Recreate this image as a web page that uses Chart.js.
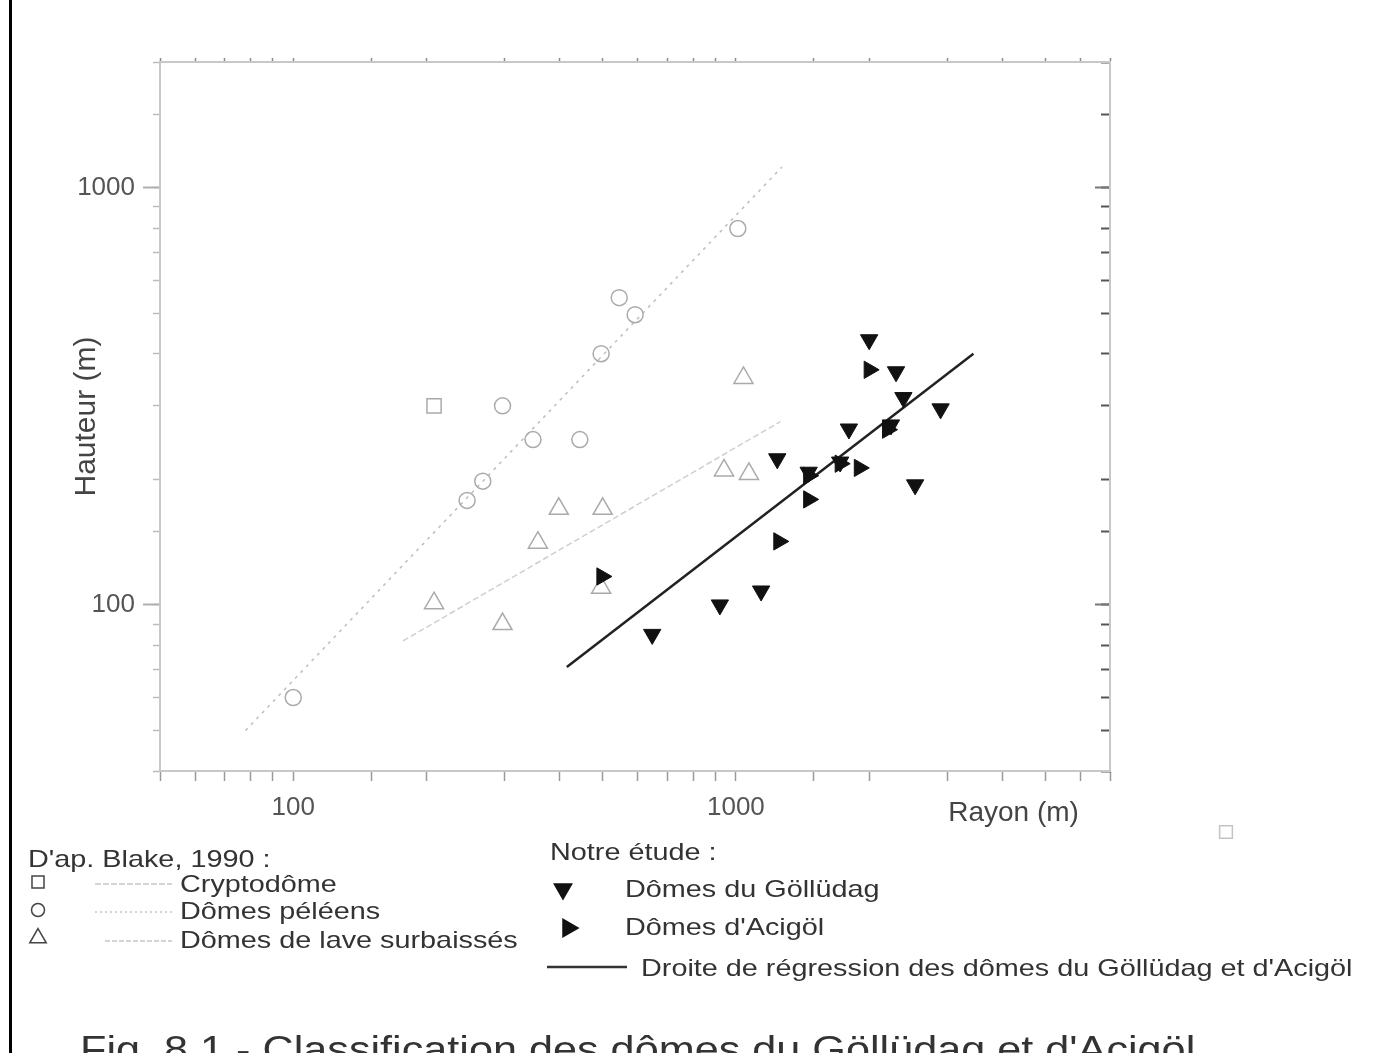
<!DOCTYPE html>
<html>
<head>
<meta charset="utf-8">
<title>Classification des dômes du Göllüdag et d'Acigöl</title>
<script src="https://cdn.jsdelivr.net/npm/chart.js@4.4.1/dist/chart.umd.min.js"></script>
<style>
  body { margin: 0; background: #fff; }
  #wrap { position: relative; width: 1383px; height: 1053px; overflow: hidden; }
  #edge { position: absolute; left: 9px; top: 0; width: 3px; height: 1053px; background: #000; }
</style>
</head>
<body>
<div id="wrap">
  <canvas id="domes" width="1383" height="1053"></canvas>
  <div id="edge"></div>
</div>
<script>
// axis ranges and labelled ticks
const rayonRange = [50, 7000];
const hauteurRange = [40, 2000];
const majorTicks = [100, 1000];

// D'ap. Blake, 1990
const cryptoR = [208];
const cryptoH = [300];
const peleR = [100, 247, 268, 297, 348, 444, 496, 545, 592, 1010];
const peleH = [60, 178, 198, 300, 249, 249, 400, 545, 496, 798];
const surbR = [208, 297, 357, 398, 496, 500, 940, 1070, 1040];
const surbH = [101, 90, 141, 170, 110, 170, 210, 206, 350];

// Notre étude
const gollR = [647, 920, 1140, 1240, 1460, 1720, 1800, 2000, 2240, 2300, 2390, 2540, 2900];
const gollH = [85, 100, 108, 224, 208, 220, 264, 432, 270, 362, 314, 194, 295];
const acigR = [498, 1250, 1460, 1460, 1720, 1900, 2000, 2200];
const acigH = [117, 142, 179, 204, 218, 213, 366, 263];

// trend lines (end points)
const peleLineR = [78, 1270];
const peleLineH = [50, 1120];
const surbLineR = [177, 1260];
const surbLineH = [82, 275];
const regLineR = [415, 3440];
const regLineH = [71, 400];

const FONT = '"Liberation Sans", Arial, sans-serif';
Chart.defaults.font.family = FONT;

function pts(xs, ys) {
  return xs.map((x, i) => ({x: x, y: ys[i]}));
}

function isMajor(v) {
  const r = Math.round(v);
  return majorTicks.indexOf(r) >= 0 && Math.abs(v - r) < 1e-6;
}

function majorLabel(v) {
  return isMajor(v) ? String(Math.round(v)) : '';
}

const frame = {display: true, color: '#c8c8c8', width: 2};

// legend + caption, drawn after the chart
const notes = {
  id: 'notes',
  afterDraw(chart) {
    const ctx = chart.ctx;
    const dp = Chart.helpers.drawPoint;

    function txt(s, x, y, size, color, base) {
      ctx.save();
      ctx.font = size + 'px ' + FONT;
      ctx.fillStyle = color;
      ctx.textBaseline = base || 'middle';
      ctx.translate(x, y);
      ctx.scale(1.2, 1);
      ctx.fillText(s, 0, 0);
      ctx.restore();
    }
    function sample(x1, x2, y, color, width, dash) {
      ctx.save();
      ctx.strokeStyle = color;
      ctx.lineWidth = width;
      ctx.setLineDash(dash);
      ctx.beginPath();
      ctx.moveTo(x1, y);
      ctx.lineTo(x2, y);
      ctx.stroke();
      ctx.restore();
    }
    function mark(style, r, rot, x, y, fill, stroke) {
      ctx.save();
      ctx.fillStyle = fill;
      ctx.strokeStyle = stroke;
      ctx.lineWidth = 1.5;
      dp(ctx, {pointStyle: style, radius: r, rotation: rot, borderWidth: 1.5}, x, y);
      ctx.restore();
    }

    // left block
    txt("D'ap. Blake, 1990 :", 28, 860, 24, '#333');
    mark('rect', 8.5, 0, 38, 882, 'rgba(0,0,0,0)', '#444');
    sample(95, 172, 884, '#aaa', 1, [6, 2]);
    txt('Cryptodôme', 180, 885, 24, '#333');
    mark('circle', 6.5, 0, 38, 910, 'rgba(0,0,0,0)', '#444');
    sample(95, 172, 912, '#aaa', 1, [2, 3]);
    txt('Dômes péléens', 180, 912, 24, '#333');
    mark('triangle', 9.5, 0, 38, 938, 'rgba(0,0,0,0)', '#444');
    sample(105, 172, 941, '#aaa', 1, [5, 2]);
    txt('Dômes de lave surbaissés', 180, 941, 24, '#333');

    // right block
    txt('Notre étude :', 550, 853, 24, '#333');
    mark('triangle', 10, 180, 563, 889, '#111', '#111');
    txt('Dômes du Göllüdag', 625, 890, 24, '#333');
    mark('triangle', 10, 90, 568, 928, '#111', '#111');
    txt("Dômes d'Acigöl", 625, 928, 24, '#333');
    sample(547, 627, 967, '#333', 2.5, []);
    txt("Droite de régression des dômes du Göllüdag et d'Acigöl", 641, 969, 24, '#333');

    // stray box at the right of the axis title
    mark('rect', 9, 0, 1226, 832, 'rgba(0,0,0,0)', '#c4c4c4');

    // caption (cut by the bottom edge)
    txt("Fig. 8.1 - Classification des dômes du Göllüdag et d'Acigöl", 80, 1062, 36, '#333', 'alphabetic');
  }
};

// longer marks at 100 and 1000 on the vertical sides
function majorTickAxis(position, len, color) {
  return {
    type: 'logarithmic', position: position, weight: -1,
    min: hauteurRange[0], max: hauteurRange[1],
    afterFit: s => { s.width = 0; },
    border: {display: false},
    grid: {
      drawOnChartArea: false, tickLength: len, tickWidth: 2,
      tickColor: c => (c.tick && isMajor(c.tick.value)) ? color : 'rgba(0,0,0,0)'
    },
    ticks: {display: false}
  };
}

new Chart(document.getElementById('domes').getContext('2d'), {
  type: 'scatter',
  data: {
    datasets: [
      {
        label: "Dômes d'Acigöl",
        data: pts(acigR, acigH),
        pointStyle: 'triangle', rotation: 90, pointRadius: 10,
        backgroundColor: '#111', borderColor: '#111', borderWidth: 1
      },
      {
        label: 'Dômes du Göllüdag',
        data: pts(gollR, gollH),
        pointStyle: 'triangle', rotation: 180, pointRadius: 10,
        backgroundColor: '#111', borderColor: '#111', borderWidth: 1
      },
      {
        label: 'Cryptodôme',
        data: pts(cryptoR, cryptoH),
        pointStyle: 'rect', pointRadius: 10,
        backgroundColor: 'rgba(0,0,0,0)', borderColor: '#aaa', borderWidth: 1.5
      },
      {
        label: 'Dômes péléens',
        data: pts(peleR, peleH),
        pointStyle: 'circle', pointRadius: 8,
        backgroundColor: 'rgba(0,0,0,0)', borderColor: '#aaa', borderWidth: 1.5
      },
      {
        label: 'Dômes de lave surbaissés',
        data: pts(surbR, surbH),
        pointStyle: 'triangle', pointRadius: 11,
        backgroundColor: 'rgba(0,0,0,0)', borderColor: '#aaa', borderWidth: 1.5
      },
      {
        label: 'Droite de régression',
        data: pts(regLineR, regLineH),
        showLine: true, pointRadius: 0,
        borderColor: '#222', borderWidth: 2.5
      },
      {
        label: 'tendance péléens',
        data: pts(peleLineR, peleLineH),
        showLine: true, pointRadius: 0,
        borderColor: '#bdbdbd', borderWidth: 1.5, borderDash: [3, 5]
      },
      {
        label: 'tendance surbaissés',
        data: pts(surbLineR, surbLineH),
        showLine: true, pointRadius: 0,
        borderColor: '#cfcfcf', borderWidth: 1.5, borderDash: [6, 3]
      }
    ]
  },
  options: {
    responsive: false,
    animation: false,
    events: [],
    layout: {padding: {left: 0, top: 62, right: 273, bottom: 223}},
    plugins: {legend: {display: false}, tooltip: {enabled: false}},
    scales: {
      x: {
        type: 'logarithmic', position: 'bottom',
        min: rayonRange[0], max: rayonRange[1],
        afterFit: s => { s.height = 59; },
        border: frame,
        grid: {drawOnChartArea: false, tickLength: 10, tickColor: '#9a9a9a', tickWidth: 1.5},
        ticks: {autoSkip: false, maxRotation: 0, padding: 11, color: '#555', font: {size: 26}, callback: majorLabel},
        title: {display: true, text: 'Rayon (m)    ', align: 'end', color: '#444', font: {size: 28}, padding: 0}
      },
      xTop: {
        type: 'logarithmic', position: 'top',
        min: rayonRange[0], max: rayonRange[1],
        afterFit: s => { s.height = 0; },
        border: frame,
        grid: {drawOnChartArea: false, tickLength: 4, tickColor: '#888', tickWidth: 1.5},
        ticks: {display: false}
      },
      y: {
        type: 'logarithmic', position: 'left',
        min: hauteurRange[0], max: hauteurRange[1],
        afterFit: s => { s.width = 160; },
        border: frame,
        grid: {drawOnChartArea: false, tickLength: 7, tickColor: '#bbb', tickWidth: 1.5},
        ticks: {autoSkip: false, padding: 18, color: '#555', font: {size: 26}, callback: majorLabel},
        title: {display: true, text: 'Hauteur (m)', color: '#444', font: {size: 30}, padding: {top: 69, bottom: 0}}
      },
      yMajorLeft: majorTickAxis('left', 17, '#b0b0b0'),
      yRight: {
        type: 'logarithmic', position: 'right',
        min: hauteurRange[0], max: hauteurRange[1],
        afterFit: s => { s.width = 0; },
        border: frame,
        grid: {drawOnChartArea: false, tickLength: -9, tickColor: '#555', tickWidth: 2},
        ticks: {display: false}
      },
      yMajorRight: majorTickAxis('right', -15, '#777')
    }
  },
  plugins: [notes]
});
</script>
</body>
</html>
